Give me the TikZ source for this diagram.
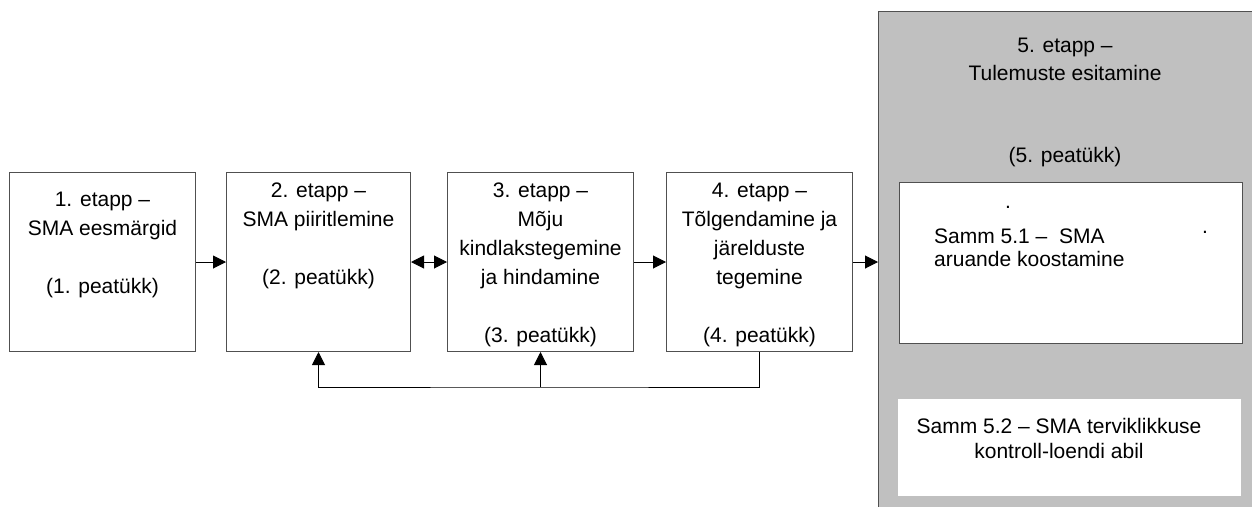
\documentclass[tikz,border=0pt]{standalone}
\usepackage{fontspec}
\setmainfont{Liberation Sans}
\usetikzlibrary{arrows.meta}
\definecolor{panelgray}{RGB}{192,192,192}
\definecolor{boxline}{RGB}{80,80,80}
\tikzset{
  stagebox/.style={draw=boxline, line width=1pt, fill=white, anchor=north west, inner sep=0pt},
  txt/.style={inner sep=0pt, align=center, font=\fontsize{21}{29}\selectfont},
  arr/.style={draw=black, line width=1pt, -{Triangle[length=13pt,width=13pt]}},
  darr/.style={draw=black, line width=1pt, {Triangle[length=13pt,width=13pt]}-{Triangle[length=13pt,width=13pt]}},
}
\begin{document}
\begin{tikzpicture}[x=1pt,y=-1pt]
\useasboundingbox (0,0) rectangle (1252,506);
\clip (0,0) rectangle (1252,506);
% right panel
\node[fill=panelgray, anchor=north west, inner sep=0pt, minimum width=390pt, minimum height=510pt] (p5) at (878,11) {};
\draw[draw=boxline, line width=1pt] (p5.south west) -- (p5.north west) -- (p5.north east);
\node[inner sep=0pt, align=center, font=\fontsize{21}{27.5}\selectfont, anchor=north] (p5t) at (1065,38) {5. etapp --\\Tulemuste esitamine\\[55pt](5. peatükk)};
% inner boxes
\node[stagebox, minimum width=343pt, minimum height=161pt] (s51) at (899,182) {};
\node[inner sep=0pt, anchor=north west, align=left, font=\fontsize{21}{23}\selectfont] (s51t) at (934,229) {Samm 5.1 --\ \ SMA\\aruande koostamine};
\node[inner sep=0pt, font=\fontsize{21}{23}\selectfont] (d1) at (1008,207) {.};
\node[inner sep=0pt, font=\fontsize{21}{23}\selectfont] (d2) at (1205,232) {.};
\node[fill=white, anchor=north west, inner sep=0pt, minimum width=343pt, minimum height=97pt] (s52) at (898,399) {};
\node[inner sep=0pt, anchor=north, align=center, font=\fontsize{21}{25}\selectfont] (s52t) at (1059,418) {Samm 5.2 -- SMA terviklikkuse\\kontroll-loendi abil};
% stage boxes
\node[stagebox, minimum width=186pt, minimum height=179pt] (b1) at (9,172) {};
\node[stagebox, minimum width=184pt, minimum height=179pt] (b2) at (226,172) {};
\node[stagebox, minimum width=186pt, minimum height=179pt] (b3) at (447,172) {};
\node[stagebox, minimum width=186pt, minimum height=179pt] (b4) at (666,172) {};
\node[txt, anchor=north] (b1t) at (b1.north |- 0,192) {1. etapp --\\SMA eesmärgid\\[29pt](1. peatükk)};
\node[txt, anchor=north] (b2t) at (b2.north |- 0,183) {2. etapp --\\SMA piiritlemine\\[29pt](2. peatükk)};
\node[txt, anchor=north] (b3t) at (b3.north |- 0,183) {3. etapp --\\Mõju\\kindlakstegemine\\ja hindamine\\[29pt](3. peatükk)};
\node[txt, anchor=north] (b4t) at (b4.north |- 0,183) {4. etapp --\\Tõlgendamine ja\\järelduste\\tegemine\\[29pt](4. peatükk)};
% connectors
\draw[arr] (b1.east) -- (b2.west);
\draw[darr] (b2.east) -- (b3.west);
\draw[arr] (b3.east) -- (b4.west);
\draw[arr] (b4.east) -- (b4.east -| p5.west);
\coordinate (fb) at (540,387);
\draw[arr] (b4.south) |- (fb) -| (b2.south);
\draw[arr] (b3.south |- fb) -- (b3.south);
\end{tikzpicture}
\end{document}
